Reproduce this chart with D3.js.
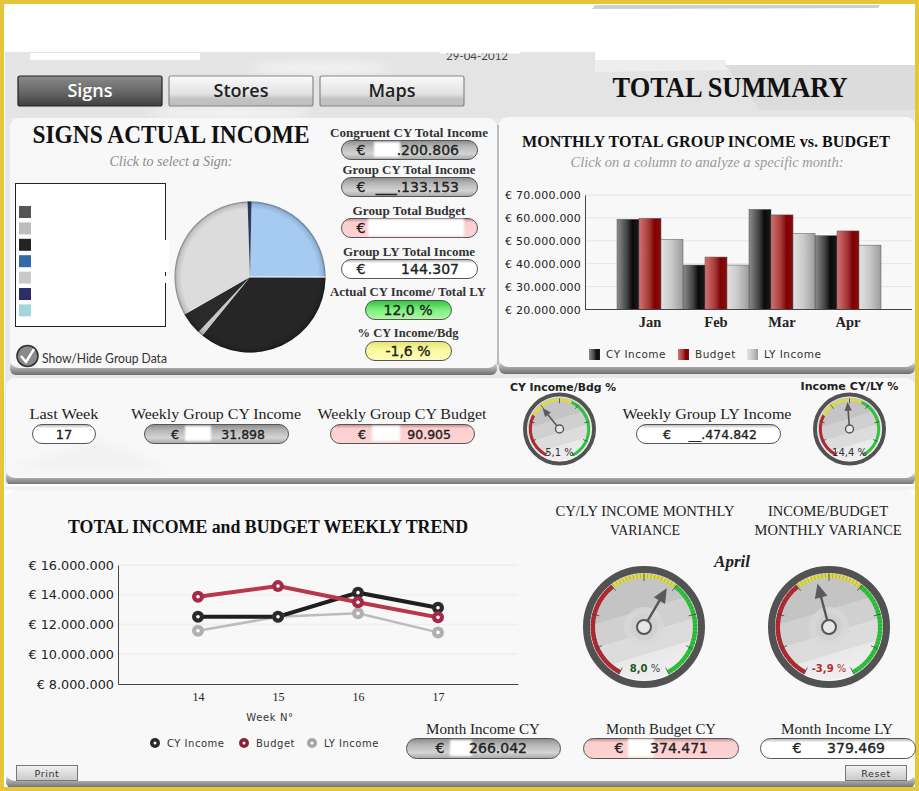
<!DOCTYPE html>
<html><head><meta charset="utf-8">
<script src="https://cdn.jsdelivr.net/npm/d3@7"></script>
<style>
html,body{margin:0;padding:0;background:#fff;overflow:hidden}
svg{display:block}
text{font-family:"Liberation Serif",serif}
.axis path,.axis line{stroke:#444}
.axis text{font-family:"DejaVu Sans",sans-serif;fill:#222}
</style></head><body>
<script>
// ---- data ----
const months=["Jan","Feb","Mar","Apr"];
const barSeries=["CY Income","Budget","LY Income"];
const barCY=[59400000,39400000,63700000,52200000];
const barBudget=[59800000,42900000,61300000,54300000];
const barLY=[50600000,39400000,53200000,48100000];
const barTicks=[20000000,30000000,40000000,50000000,60000000,70000000];
const weeks=["14","15","16","17"];
const lineCY=[12520000,12520000,14140000,13130000];
const lineBudget=[13870000,14580000,13500000,12480000];
const lineLY=[11580000,12520000,12750000,11470000];
const lineTicks=[8000000,10000000,12000000,14000000,16000000];
const pieValues=[89,129,4,17,118,3];
const pieColors=["#a6cbf2","#262626","#c8c8c8","#2a2a2a","url(#pieGray)","#2d3a5c"];
const legendSwatches=["#555555","#bdbdbd","#232323","#2f6ca8","#c8c8c8","#2d2d66","#a5d5dc"];
const tabs=["Signs","Stores","Maps"];
const smallGaugeValues=[5.1,14.4];
const bigGaugeValues=[8.0,-3.9];

const W=919,H=791;
const svg=d3.select("body").append("svg").attr("width",W).attr("height",H).attr("viewBox",`0 0 ${W} ${H}`);
const defs=svg.append("defs");
function grad(id,stops,dir){
  const g=defs.append("linearGradient").attr("id",id);
  if(dir==="h"){g.attr("x1",0).attr("x2",1).attr("y1",0).attr("y2",0);}
  else if(dir==="d"){g.attr("x1",.35).attr("x2",.65).attr("y1",0).attr("y2",1);}
  else{g.attr("x1",0).attr("x2",0).attr("y1",0).attr("y2",1);}
  stops.forEach(s=>g.append("stop").attr("offset",s[0]).attr("stop-color",s[1]));
}
grad("pillGray",[[0,"#8b8b8b"],[.3,"#b5b5b5"],[.7,"#d4d4d4"],[1,"#a8a8a8"]]);
grad("pillPink",[[0,"#b98a8a"],[.2,"#fbcfcf"],[1,"#fdd3d3"]]);
grad("pillWhite",[[0,"#b0b0b0"],[.2,"#fff"],[1,"#fff"]]);
grad("pillGreen",[[0,"#2fc43f"],[.5,"#7df07e"],[1,"#b5f7a8"]]);
grad("pillYellow",[[0,"#e5e27a"],[.5,"#fdfb9f"],[1,"#fdfcc0"]]);
grad("tabDark",[[0,"#8a8a8a"],[.55,"#666"],[1,"#3f3f3f"]]);
grad("tabLight",[[0,"#fafafa"],[.6,"#e2e2e2"],[.75,"#c4c4c4"],[1,"#bdbdbd"]]);
grad("btn",[[0,"#f2f2f2"],[1,"#c9c9c9"]]);
grad("shadow",[[0,"#f8f8f8"],[.35,"#bdbdbd"],[1,"#6d6d6d"]]);
grad("barCY",[[0,"#8d8d8d"],[.45,"#444"],[.7,"#0a0a0a"],[1,"#1a1a1a"]],"h");
grad("barBudget",[[0,"#d67272"],[.45,"#a63a3a"],[.72,"#7e0000"],[1,"#8c0d0d"]],"h");
grad("barLY",[[0,"#e2e2e2"],[.5,"#c8c8c8"],[1,"#9c9c9c"]],"h");
grad("face",[[0,"#c4c4c4"],[.36,"#c4c4c4"],[.36,"#d0d0d0"],[.55,"#d0d0d0"],[.55,"#dcdcdc"],[.72,"#dcdcdc"],[.72,"#e8e8e8"],[1,"#f2f2f2"]],"d");
defs.append("linearGradient").attr("id","pieGray").attr("gradientUnits","userSpaceOnUse")
  .attr("x1",0).attr("x2",0).attr("y1",200).attr("y2",355).selectAll("stop")
  .data([[0,"#dcdcdc"],[.53,"#dcdcdc"],[.53,"#cbcbcb"],[1,"#cbcbcb"]]).join("stop")
  .attr("offset",d=>d[0]).attr("stop-color",d=>d[1]);
const blur=defs.append("filter").attr("id","soft").attr("x","-20%").attr("y","-20%").attr("width","140%").attr("height","140%");
blur.append("feGaussianBlur").attr("stdDeviation",1.2);
const blur2=defs.append("filter").attr("id","soft2").attr("x","-20%").attr("y","-50%").attr("width","140%").attr("height","200%");
blur2.append("feGaussianBlur").attr("stdDeviation",5);

function rect(x,y,w,h,fill,extra){
  const r=svg.append("rect").attr("x",x).attr("y",y).attr("width",w).attr("height",h).attr("fill",fill);
  if(extra)Object.keys(extra).forEach(k=>r.attr(k,extra[k]));
  return r;
}
function label(x,y,t,o){
  o=o||{};
  const e=(o.parent||svg).append("text").attr("x",x).attr("y",y).attr("text-anchor",o.anchor||"middle").text(t)
    .attr("font-size",o.size||12).attr("fill",o.fill||"#1a1a1a");
  if(o.weight)e.attr("font-weight",o.weight);
  if(o.style)e.attr("font-style",o.style);
  if(o.family)e.style("font-family",o.family);
  if(o.len)e.attr("textLength",o.len).attr("lengthAdjust","spacingAndGlyphs");
  return e;
}
const SANS='"DejaVu Sans",sans-serif', TAB='"Open Sans",sans-serif', LATO='Lato,sans-serif';

// ---- page background ----
rect(0,0,W,H,"#fff");
rect(5,52,910,70,"#e4e4e4");
svg.append("path").attr("d","M5 4H595V52H5Z M595 4H915V65H725L720 60H595Z").attr("fill","#fff");
svg.append("path").attr("d","M595 5L880 5L878 8L592 9Z").attr("fill","#cfcfcf");
svg.append("path").attr("d","M595 60H725L730 70L595 72Z").attr("fill","#eeeeee");
svg.append("path").attr("d","M725 65H915V110H760Z").attr("fill","#dcdcdc");
svg.append("path").attr("d","M30 53H200V60H30Z").attr("fill","#fff");
svg.append("ellipse").attr("cx",320).attr("cy",68).attr("rx",70).attr("ry",6).attr("fill","#f3f3f3").attr("filter","url(#soft2)");
svg.append("ellipse").attr("cx",230).attr("cy",113).attr("rx",80).attr("ry",5).attr("fill","#f6f6f6").attr("filter","url(#soft2)");
rect(5,118,910,372,"#e8e8e8");

// date (its upper half is cut by the white header)
label(477,60,"29-04-2012",{size:11,fill:"#444",family:LATO,len:62});
rect(440,45,80,8.5,"#fff");

// ---- panels ----
function panel(x,y,w,h,fill){
  rect(x,y+h-14,w,14,"url(#shadow)",{rx:6});
  rect(x,y,w,h-7,fill||"#f8f8f9",{rx:9});
}
panel(10,118,487,257);
panel(499,117,416,257);
rect(497,125,2,240,"#bdbdbd");
panel(6,378,909,107,"#f8f8f9");
svg.append("path").attr("d","M6 470L100 440L170 470Z").attr("fill","#f2f2f2").attr("filter","url(#soft2)");
rect(5,484,910,7,"#fff");
panel(6,490,909,298,"#f8f8f9");
rect(5,486,910,4,"#f2f2f2");

// ---- yellow frame ----
const gold="#e3c63b";
rect(0,0,W,4,gold); rect(0,787,W,4,gold); rect(0,0,4,H,gold); rect(915,0,4,H,gold);

// ---- tabs ----
const tabX=d3.scaleBand().domain(tabs).range([18,471]).paddingInner(0.0);
tabs.forEach((t,i)=>{
  const x=tabX(t);
  rect(x,76,144,30,i===0?"url(#tabDark)":"url(#tabLight)",{rx:2,stroke:i===0?"#222":"#888","stroke-width":1.2});
  label(x+72,97,t,{size:18,weight:600,family:TAB,fill:i===0?"#fff":"#222"});
});

// ---- titles ----
label(730,97,"TOTAL SUMMARY",{size:29,weight:"bold",len:235,fill:"#111"});
label(171,143,"SIGNS ACTUAL INCOME",{size:26,weight:"bold",len:277,fill:"#111"});
label(171,166,"Click to select a Sign:",{size:14,style:"italic",fill:"#8a8a8a",len:123});
label(706,147,"MONTHLY TOTAL GROUP INCOME vs. BUDGET",{size:17,weight:"bold",len:368,fill:"#111"});
label(707,167,"Click on a column to analyze a specific month:",{size:14,style:"italic",fill:"#9a9a9a",len:273});
label(268,533,"TOTAL INCOME and BUDGET WEEKLY TREND",{size:18,weight:"bold",len:400,fill:"#111"});

// ---- pie legend box ----
rect(15.5,183.5,150,143,"#fff",{stroke:"#222","stroke-width":1});
legendSwatches.forEach((c,i)=>{
  rect(19,206+i*16.4,12,12,c);
});
rect(161,240,8,32,"#fff");
rect(161,276,8,7,"#fff");

// ---- pie ----
const pieG=svg.append("g").attr("transform","translate(250,277)");
const pie=d3.pie().sort(null).startAngle(0.02).endAngle(2*Math.PI+0.02);
const pieR=75.5;
pieG.selectAll("path.s").data(pie(pieValues)).join("path").attr("class","s")
  .attr("d",d3.arc().innerRadius(0).outerRadius(pieR)).attr("fill",(d,i)=>pieColors[i]);
const rim=defs.append("radialGradient").attr("id","rim").attr("gradientUnits","userSpaceOnUse").attr("cx",0).attr("cy",0).attr("r",pieR);
[[.9,"#000",0],[.97,"#000",.12],[1,"#000",.42]].forEach(s=>rim.append("stop").attr("offset",s[0]).attr("stop-color",s[1]).attr("stop-opacity",s[2]));
pieG.append("circle").attr("r",pieR).attr("fill","url(#rim)");
pieG.append("line").attr("x1",0).attr("y1",0).attr("x2",pieR).attr("y2",0).attr("stroke","#fff").attr("stroke-width",1);

// check box
svg.append("circle").attr("cx",27.5).attr("cy",356).attr("r",10.5).attr("fill","#8a8a8a").attr("stroke","#333").attr("stroke-width",1.6);
svg.append("path").attr("d","M21 356L26 362L34 349").attr("fill","none").attr("stroke","#fff").attr("stroke-width",2.4);
label(42,363,"Show/Hide Group Data",{anchor:"start",size:12.5,family:LATO,fill:"#333",len:125});

// ---- pills ----
function pill(x,y,w,h,fill,pre,val,o){
  o=o||{};
  rect(x+.5,y+.5,w,h,fill,{rx:h/2,stroke:"#555","stroke-width":1});
  const fam=o.family||SANS, size=o.size||14;
  if(o.patch)rect(o.patch[0],y+(o.patchInset||2),o.patch[1],h-(o.patchInset||2)*2,"#fff",{filter:"url(#soft)"});
  const style=e=>e.attr("stroke","#222").attr("stroke-width",.35);
  if(pre)style(label(o.preX,y+h/2+5,pre,{size:size,family:fam,fill:"#222"}));
  if(val)style(label(o.valX,y+h/2+5,val,{size:size,family:fam,fill:"#222",anchor:o.anchor||"end"}));
}
const pL={size:12.5,weight:"bold",fill:"#333"};
label(409,137,"Congruent CY Total Income",{...pL,len:158});
pill(341,140,136,19,"url(#pillGray)","€",".200.806",{preX:361,valX:459,patch:[374,26]});
label(409,174,"Group CY Total Income",{...pL,len:133});
pill(341,177,136,19,"url(#pillGray)","€","___.133.153",{preX:361,valX:459});
label(409,215,"Group Total Budget",{...pL,len:113});
pill(341,218,136,19,"url(#pillPink)","€","",{preX:361,patch:[368,96],patchInset:1});
label(409,256,"Group LY Total Income",{...pL,len:132});
pill(341,259,136,19,"url(#pillWhite)","€","144.307",{preX:361,valX:459});
label(408,296,"Actual CY Income/ Total LY",{...pL,len:156});
pill(365,300,86,19,"url(#pillGreen)","","12,0 %",{valX:408,anchor:"middle"});
label(408,337,"% CY Income/Bdg",{...pL,len:101});
pill(365,341,86,19,"url(#pillYellow)","","-1,6 %",{valX:408,anchor:"middle"});

// weekly row
const wL={size:14.5,fill:"#222"};
label(64,419,"Last Week",{...wL,len:69});
pill(32,424,63,19,"url(#pillWhite)","","17",{valX:64,anchor:"middle",size:13,family:SANS});
label(216,419,"Weekly Group CY Income",{...wL,len:170});
pill(144,424,144,19,"url(#pillGray)","€","31.898",{preX:175,valX:265,patch:[185,26],size:12.5});
label(402,419,"Weekly Group CY Budget",{...wL,len:169});
pill(330,424,144,19,"url(#pillPink)","€","90.905",{preX:362,valX:451,patch:[372,28],size:12.5});
label(707,419,"Weekly Group LY Income",{...wL,len:169});
pill(636,424,144,19,"url(#pillWhite)","€","__.474.842",{preX:667,valX:757,size:12.5});

// monthly pills
const mL={size:14.5,fill:"#222"};
label(483,734,"Month Income CY",{...mL,len:114});
pill(406,738,154,20,"url(#pillGray)","€","266.042",{preX:440,valX:527,patch:[450,22]});
label(661,734,"Month Budget CY",{...mL,len:110});
pill(583,738,155,20,"url(#pillPink)","€","374.471",{preX:619,valX:708,patch:[628,26],patchInset:1});
label(837,734,"Month Income LY",{...mL,len:112});
pill(760,738,155,20,"url(#pillWhite)","€","379.469",{preX:797,valX:885});

// ---- bar chart ----
const xMonth=d3.scaleBand().domain(months).range([617,881]);
const xSeries=d3.scaleBand().domain(barSeries).range([0,xMonth.bandwidth()]);
const yBar=d3.scaleLinear().domain([20000000,70000000]).range([309.5,195]);
const euro=d=>"€ "+d3.format(",")(d).replace(/,/g,".");
svg.append("g").selectAll("line").data(barTicks.slice(1)).join("line")
  .attr("x1",585).attr("x2",912).attr("y1",d=>yBar(d)).attr("y2",d=>yBar(d)).attr("stroke","#e6e6e6");
const barData=[barCY,barBudget,barLY];
const barFills=["url(#barCY)","url(#barBudget)","url(#barLY)"];
barSeries.forEach((s,si)=>{
  svg.append("g").selectAll("rect").data(barData[si]).join("rect")
    .attr("x",(d,i)=>xMonth(months[i])+xSeries(s))
    .attr("width",xSeries.bandwidth())
    .attr("y",d=>yBar(d)).attr("height",d=>yBar(20000000)-yBar(d))
    .attr("fill",barFills[si]).attr("stroke","#555").attr("stroke-width",.5);
});
const axB=svg.append("g").attr("class","axis").attr("transform","translate(585,0)")
  .call(d3.axisLeft(yBar).tickValues(barTicks).tickFormat(euro).tickSize(0).tickPadding(4));
axB.selectAll("text").attr("font-size",11).attr("letter-spacing",.2);
const axBX=svg.append("g").attr("class","axis").attr("transform","translate(0,309.5)")
  .call(d3.axisBottom(xMonth).tickSize(0).tickPadding(7));
axBX.select("path").attr("d","M585 0H912");
axBX.selectAll("text").style("font-family",'"Liberation Serif",serif').attr("font-size",14.5).attr("font-weight","bold").attr("fill","#333");
// legend
const barLegX=[589,678,747];
barSeries.forEach((s,i)=>{
  rect(barLegX[i],349,11,11,barFills[i]);
  label(barLegX[i]+17,358,s,{anchor:"start",size:10.5,family:SANS,fill:"#333"}).attr("letter-spacing",.5);
});

// ---- line chart ----
const xWeek=d3.scalePoint().domain(weeks).range([118,518]).padding(1);
const yLine=d3.scaleLinear().domain([8000000,16000000]).range([684,565]);
svg.append("g").selectAll("line").data(lineTicks.slice(1)).join("line")
  .attr("x1",118).attr("x2",518).attr("y1",d=>yLine(d)).attr("y2",d=>yLine(d)).attr("stroke","#f0f0f0").attr("stroke-width",2);
const lineGen=d3.line().x((d,i)=>xWeek(weeks[i])).y(d=>yLine(d));
const lines=[{v:lineLY,c:"#bcbcbc",w:2.5,m:"#b0b0b0"},{v:lineCY,c:"#1f1f1f",w:4,m:"#2a2a2a"},{v:lineBudget,c:"#b8374a",w:4,m:"#a52a48"}];
function marker(p,x,y,c,r){
  p.append("circle").attr("cx",x).attr("cy",y).attr("r",r).attr("fill",c);
  p.append("circle").attr("cx",x).attr("cy",y).attr("r",r*.3).attr("fill","#fff");
}
lines.forEach(l=>{
  svg.append("path").attr("d",lineGen(l.v)).attr("fill","none").attr("stroke",l.c).attr("stroke-width",l.w);
});
lines.forEach(l=>{
  l.v.forEach((d,i)=>marker(svg,xWeek(weeks[i]),yLine(d),l.m,6));
});
const axL=svg.append("g").attr("class","axis").attr("transform","translate(118,0)")
  .call(d3.axisLeft(yLine).tickValues(lineTicks).tickFormat(euro).tickSize(0).tickPadding(4));
axL.selectAll("text").attr("font-size",12.8);
const axLX=svg.append("g").attr("class","axis").attr("transform","translate(0,684)")
  .call(d3.axisBottom(xWeek).tickSize(0).tickPadding(8));
axLX.selectAll("text").style("font-family",'"Liberation Serif",serif').attr("font-size",12).attr("fill","#333");
label(270,721,"Week N°",{size:10,family:SANS,fill:"#333"}).attr("letter-spacing",.6);
[{x:155,t:"CY Income",c:"#2a2a2a"},{x:244,t:"Budget",c:"#8a1f3c"},{x:312,t:"LY Income",c:"#a5a5a5"}].forEach(d=>{
  marker(svg,d.x,743,d.c,5);
  label(d.x+12,746.5,d.t,{anchor:"start",size:10,family:SANS,fill:"#333"}).attr("letter-spacing",.5);
});

// ---- gauges ----
function gauge(cx,cy,R,value,domain,cuts,opts){
  const g=svg.append("g").attr("transform",`translate(${cx},${cy})`);
  const ang=d3.scaleLinear().domain(domain).range([-152,152]);
  const rad=d=>d*Math.PI/180;
  g.append("circle").attr("r",R-opts.bezel/2).attr("fill","url(#face)").attr("stroke","#525252").attr("stroke-width",opts.bezel);
  g.append("circle").attr("r",R-opts.bezel-.5).attr("fill","none").attr("stroke","#fff").attr("stroke-width",.8).attr("opacity",.7);
  const rA=R*opts.arcR, aw=opts.arcW;
  const arc=d3.arc().innerRadius(rA-aw/2).outerRadius(rA+aw/2);
  [["#b02a30",domain[0],cuts[0]],["#dcd94e",cuts[0],cuts[1]],["#2ec43a",cuts[1],domain[1]]].forEach(s=>{
    g.append("path").attr("d",arc({startAngle:rad(ang(s[1])),endAngle:rad(ang(s[2]))})).attr("fill",s[0]);
  });
  if(opts.minor){
    const mins=d3.range(domain[0],domain[1]+.01,(domain[1]-domain[0])/76);
    g.selectAll("line.m").data(mins).join("line").attr("class","m")
      .attr("x1",d=>(rA-aw/2)*Math.sin(rad(ang(d)))).attr("y1",d=>-(rA-aw/2)*Math.cos(rad(ang(d))))
      .attr("x2",d=>(rA+aw/2+1)*Math.sin(rad(ang(d)))).attr("y2",d=>-(rA+aw/2+1)*Math.cos(rad(ang(d))))
      .attr("stroke","#3a3a3a").attr("stroke-width",.4).attr("opacity",.6);
  }
  const majors=d3.range(domain[0],domain[1]+.01,(domain[1]-domain[0])/8);
  g.selectAll("line.t").data(majors).join("line").attr("class","t")
    .attr("x1",d=>(rA-aw/2-opts.tick)*Math.sin(rad(ang(d)))).attr("y1",d=>-(rA-aw/2-opts.tick)*Math.cos(rad(ang(d))))
    .attr("x2",d=>(rA+aw/2)*Math.sin(rad(ang(d)))).attr("y2",d=>-(rA+aw/2)*Math.cos(rad(ang(d))))
    .attr("stroke","#444").attr("stroke-width",.8);
  if(opts.halo){
    g.append("circle").attr("r",R*.33).attr("fill","#d8d8d8").attr("opacity",.7);
    g.append("circle").attr("r",R*.22).attr("fill","#cfcfcf").attr("opacity",.8);
  }
  const a=rad(ang(value)), L=opts.len;
  const sx=Math.sin(a), cxa=Math.cos(a);
  g.append("line").attr("x1",0).attr("y1",0).attr("x2",L*.8*sx).attr("y2",-L*.8*cxa).attr("stroke","#555").attr("stroke-width",opts.nw);
  const hw=opts.head, base=L*.68;
  g.append("path").attr("d",`M${L*sx} ${-L*cxa}L${base*sx+hw*cxa} ${-base*cxa+hw*sx}L${base*sx-hw*cxa} ${-base*cxa-hw*sx}Z`).attr("fill","#5a5a5a");
  g.append("circle").attr("r",opts.hub).attr("fill","#e6e6e6").attr("stroke","#555").attr("stroke-width",opts.hubW);
  return g;
}
const fmtPct=v=>String(Math.abs(v).toFixed(1)).replace(".",",");
const smallDomain=[-25,56], bigDomain=[-40,40];
const smallOpts={bezel:4,arcR:.8,arcW:3,tick:2,nw:1.6,head:3.6,len:27,hub:4,hubW:1.4,minor:false,halo:false};
const bigOpts={bezel:7,arcR:.84,arcW:4.5,tick:3,nw:2.4,head:6.5,len:45,hub:7,hubW:2,minor:true,halo:true};
const smallX=[559.5,849.5], bigX=[644,829];
smallGaugeValues.forEach((v,i)=>{
  gauge(smallX[i],429,36.5,v,smallDomain,[-1,22],smallOpts);
  label(smallX[i],456,fmtPct(v)+" %",{size:10,family:SANS,fill:"#333"});
});
bigGaugeValues.forEach((v,i)=>{
  gauge(bigX[i],627,61,v,bigDomain,[-10,10],bigOpts);
  const t=label(bigX[i]+(i?0:1),672,"",{size:10,family:SANS});
  t.append("tspan").attr("font-weight","bold").attr("fill",v<0?"#b02a30":"#1c5a22").text((v<0?"-":"")+fmtPct(v));
  t.append("tspan").attr("fill",v<0?"#b02a30":"#444").text(" %");
});
label(563,391,"CY Income/Bdg %",{size:10,weight:"bold",family:SANS,fill:"#222",len:106});
label(849.5,390,"Income CY/LY %",{size:10,weight:"bold",family:SANS,fill:"#222",len:98});
const gT={size:15,fill:"#222"};
label(645,516,"CY/LY INCOME MONTHLY",{...gT,len:179});
label(645,535,"VARIANCE",{...gT,len:70});
label(828,516,"INCOME/BUDGET",{...gT,len:120});
label(828,535,"MONTHLY VARIANCE",{...gT,len:147});
label(732,567,"April",{size:17,style:"italic",weight:"bold",fill:"#222"});

// ---- buttons ----
[[16,"Print"],[845,"Reset"]].forEach(b=>{
  rect(b[0]+.5,765.5,61,15,"url(#btn)",{stroke:"#777","stroke-width":1});
  label(b[0]+31,776.5,b[1],{size:9.5,family:SANS,fill:"#333"}).attr("letter-spacing",.6);
});
</script>
</body></html>
